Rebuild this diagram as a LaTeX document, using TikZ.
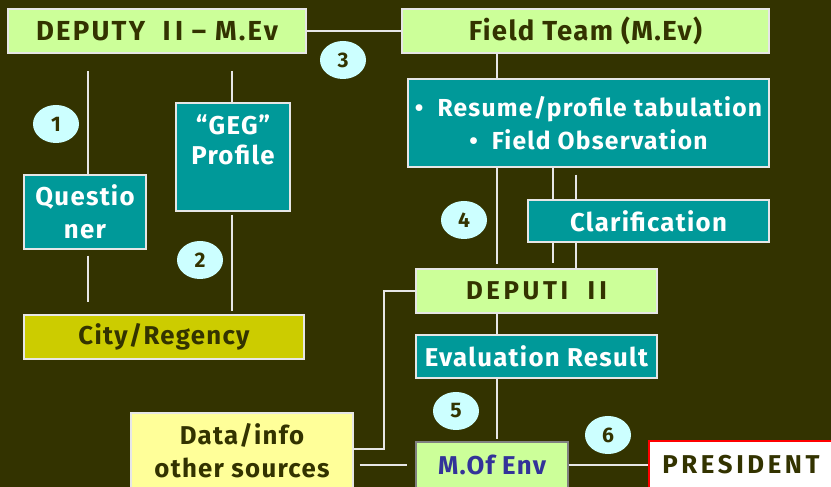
\documentclass[tikz,border=0pt]{standalone}
\usepackage{fontspec}
\setmainfont{Fira Sans}[LetterSpace=5]
\newcommand\widecaps{\addfontfeatures{LetterSpace=14}}
\newcommand\midcaps{\addfontfeatures{LetterSpace=8}}
\usepackage{tikz}
\usetikzlibrary{shapes.geometric}

\definecolor{bgolive}{HTML}{333300}
\definecolor{lgreen}{HTML}{CCFF99}
\definecolor{tealbox}{HTML}{009999}
\definecolor{cityyel}{HTML}{CCCC00}
\definecolor{numcyan}{HTML}{CCFFFF}
\definecolor{datayel}{HTML}{FFFF99}
\definecolor{envblue}{HTML}{333399}
\definecolor{edge}{HTML}{E6E6E6}

\begin{document}
\begin{tikzpicture}[x=0.03cm,y=-0.03cm,
  box/.style={draw=edge,line width=1.2pt,inner sep=0pt,align=center,
    font=\fontsize{22}{28}\selectfont\bfseries},
  gbox/.style={box,fill=lgreen,text=bgolive},
  tbox/.style={box,fill=tealbox,text=white},
  num/.style={ellipse,fill=numcyan,text=bgolive,inner sep=0pt,
    minimum width=1.38cm,minimum height=1.14cm,
    font=\fontsize{18}{18}\selectfont\bfseries},
  link/.style={draw=edge,line width=1.2pt},
]
\fill[bgolive] (0,0) rectangle (831,487);
\clip (0,0) rectangle (831,487);

% left column
\node[gbox,minimum width=8.94cm,minimum height=1.32cm,
  font=\fontsize{23.5}{28}\selectfont\bfseries] (dep) at (157,31) {\midcaps DEPUTY\ \ I\,I\ -- M.Ev};
\node[tbox,minimum width=3.66cm,minimum height=2.22cm] (quest) at (85,212) {Questio\\ner};
\node[tbox,minimum width=3.42cm,minimum height=3.24cm] (geg) at (233,157) {};
\node[anchor=north,text=white,align=center,inner sep=0pt,
  font=\fontsize{22}{26}\selectfont\bfseries] (gegtext) at ([yshift=-0.36cm]geg.north) {“GEG”\\Profile};
\node[box,fill=cityyel,text=bgolive,minimum width=8.4cm,minimum height=1.32cm] (city) at (164,337) {City/Regency};

% right column
\node[gbox,minimum width=11.01cm,minimum height=1.32cm,
  font=\fontsize{23.5}{28}\selectfont\bfseries] (field) at (585.5,31) {Field\ Team\ (M.Ev)};
\node[tbox,minimum width=10.83cm,minimum height=2.64cm,
  font=\fontsize{21}{28}\selectfont\bfseries] (resume) at (588.5,123) {•\ \ Resume/profile\ tabulation\\•\ \ Field\ Observation};
\node[tbox,minimum width=7.23cm,minimum height=1.26cm] (clar) at (648.5,221) {Clarification};
\node[gbox,minimum width=7.23cm,minimum height=1.32cm] (deputi) at (536.5,291) {\widecaps DEPUTI\ \ I\,I};
\node[tbox,minimum width=7.23cm,minimum height=1.29cm] (eval) at (536.5,356.5) {Evaluation Result};

% bottom row
\node[box,fill=datayel,text=bgolive,minimum width=6.66cm,minimum height=2.28cm] (data) at (242,451) {Data/info\\other sources};
\node[box,draw=gray,fill=lgreen,text=envblue,minimum width=4.56cm,minimum height=1.38cm] (menv) at (492,465) {M.Of\ Env};
\node[box,draw=red,fill=white,text=bgolive,minimum width=5.52cm,minimum height=1.44cm] (pres) at (741,465) {\widecaps PRESIDENT};

% numbers
\node[num] (n1) at (56,124) {1};
\node[num] (n2) at (200,260) {2};
\node[num] (n3) at (343,60) {3};
\node[num] (n4) at (464,220) {4};
\node[num] (n5) at (456,411) {5};
\node[num] (n6) at (608,435) {6};

% connectors
\coordinate (q1) at (88,71);
\coordinate (g1) at (232,71);
\coordinate (spine) at (497,0);
\coordinate (c1) at (553,0);
\coordinate (c2) at (576,0);
\coordinate (elbow) at (384,449);

\draw[link] (dep.east) -- (field.west);
\draw[link] (q1) -- (q1 |- quest.north);
\draw[link,shorten <=0.18cm,shorten >=0.36cm] (q1 |- quest.south) -- (q1 |- city.north);
\draw[link] (g1) -- (g1 |- geg.north);
\draw[link,shorten <=0.09cm,shorten >=0.09cm] (g1 |- geg.south) -- (g1 |- city.north);
\draw[link] (spine |- field.south) -- (spine |- resume.north);
\draw[link,shorten >=0.12cm] (spine |- resume.south) -- (spine |- deputi.north);
\draw[link] (c1 |- resume.south) -- (c1 |- clar.north);
\draw[link,shorten >=0.15cm] (c1 |- clar.south) -- (c1 |- deputi.north);
\draw[link,shorten <=0.21cm] (c2 |- resume.south) -- (c2 |- clar.north);
\draw[link] (c2 |- clar.south) -- (c2 |- deputi.north);
\draw[link] (spine |- deputi.south) -- (spine |- eval.north);
\draw[link,shorten >=0.06cm] (spine |- eval.south) -- (spine |- menv.north);
\draw[link] (menv.east) -- (pres.west);
\draw[link,shorten <=0.18cm,shorten >=0.24cm] (data.east |- menv.west) -- (menv.west);
\draw[link] (data.east |- elbow) -- (elbow) |- (deputi.west);
\end{tikzpicture}
\end{document}
